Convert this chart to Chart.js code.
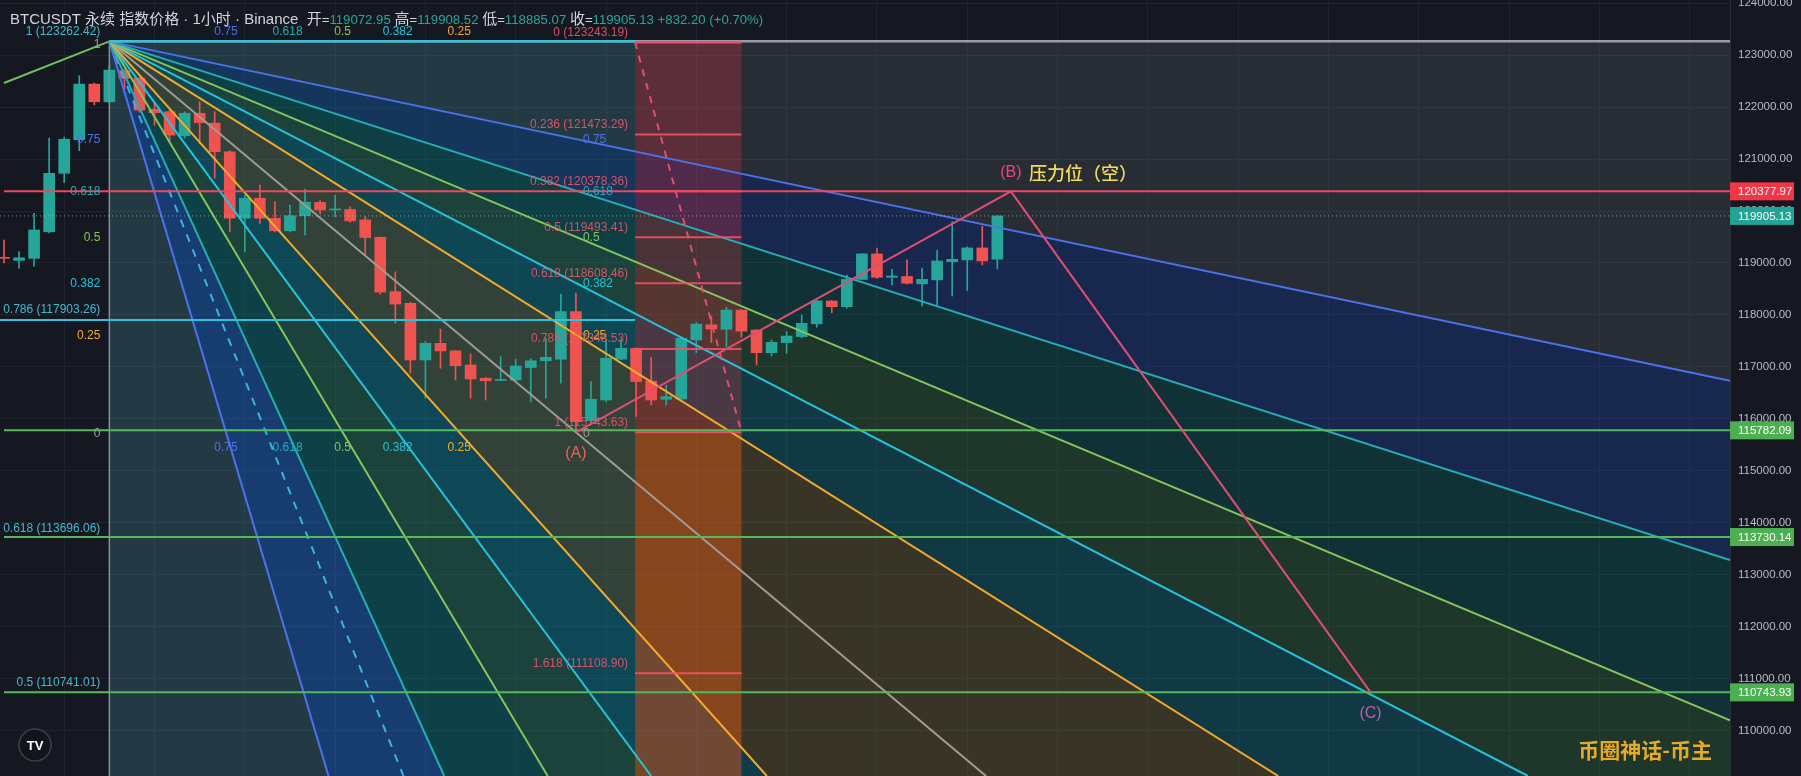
<!DOCTYPE html>
<html><head><meta charset="utf-8">
<style>html,body{margin:0;padding:0;background:#151821;overflow:hidden}canvas{display:block}</style>
<script src="https://cdn.jsdelivr.net/npm/chart.js@4.4.1/dist/chart.umd.min.js"></script>
</head><body>
<canvas id="c" width="1801" height="776"></canvas>
<script>
// ---------------- DATA ----------------
const candleOpen  = [119110,119050,119090,119600,120725,121370,122440,122100,122700,122550,121955,121910,121450,121880,121690,121140,119860,120245,119860,119620,119910,120165,120020,120030,119830,119495,118450,118225,117135,117455,117310,117040,116785,116740,116750,116990,117120,117150,118065,115970,116365,117150,117360,116730,116380,116385,117520,117810,117725,118095,117710,117275,117470,117585,117830,118270,118160,118685,119175,118725,118740,118600,118675,119025,119060,119290,119072.95];
const candleHigh  = [119440,119220,119956,121400,121420,122600,122460,122800,122720,122580,122070,121930,121910,122100,121910,121160,120300,120500,120180,120115,120420,120200,120300,120080,119890,119500,118830,118240,117490,117730,117320,117250,116800,117200,117150,117160,117550,118400,118420,116720,117530,117530,117370,117185,116650,117560,117855,117980,118150,118110,117720,117520,117680,118000,118280,118280,118770,119180,119285,118880,119060,118900,119250,119795,119310,119710,119908.52];
const candleLow   = [119000,118900,118940,119580,120545,121160,122040,122080,122350,121900,121650,121330,121400,121300,120630,119600,119220,119760,119600,119600,119540,119950,119890,119780,119150,118400,117840,116880,116400,116975,116750,116400,116365,116740,116740,116330,116400,116690,115743.63,115915,116330,117140,116045,116270,116270,116380,117275,117470,117390,117570,117040,117210,117265,117560,117765,118045,118130,118680,118705,118580,118595,118175,118190,118365,118470,118960,118885.07];
const candleClose = [119090,119100,119635,120725,121380,122440,122100,122710,122550,121940,121890,121460,121880,121700,121140,119860,120245,119860,119620,119910,120170,120020,120035,119810,119490,118440,118210,117135,117455,117310,117025,116770,116735,116760,117020,117120,117185,118065,115950,116380,117170,117360,116720,116365,116430,117550,117825,117730,118095,117690,117275,117475,117595,117840,118270,118160,118685,119175,118725,118750,118610,118685,119040,119070,119290,119040,119905.13];

const yTickValues = [110000,111000,112000,113000,114000,115000,116000,117000,118000,119000,120000,121000,122000,123000,124000];
const xGridIndex  = [4,10,16,22,28,34,40,46,52,58,64,70,76,82,88,94,100,106,112];

// Fib speed resistance fan (origin = swing high, corner = point A)
const fanOrigin = [7, 123262.42];
const fanCorner = [38, 115743.63];
const fanLevels = [0.75, 0.618, 0.5, 0.382, 0.25];

// Fib retracement #1 (left, cyan)
const fib1Levels = [1, 0.786, 0.618, 0.5];
const fib1Values = [123262.42, 117903.26, 113696.06, 110741.01];
const fib1SpanEnd = 41.93;

// Fib retracement #2 (red band)
const fib2Levels = [0, 0.236, 0.382, 0.5, 0.618, 0.786, 1, 1.618];
const fib2Values = [123243.19, 121473.29, 120378.36, 119493.41, 118608.46, 117348.53, 115743.63, 111108.90];
const fib2Span   = [41.93, 49];

// Horizontal levels with axis tags
const greenLevels = [115782.09, 113730.14, 110743.93];
const redLevel = 120377.97;
const lastPrice = 119905.13;

// Elliott ABC
const waveNames = ['(A)', '(B)', '(C)'];
const waveIndex = [38, 66.9, 90.8];
const wavePrice = [115743.63, 120377.97, 110743.93];

// other trend lines
const leadLineIndex = [0, 7];
const leadLinePrice = [122461, 123262.42];
const dashFanIndex = [7, 17.4];
const dashFanPrice = [123262.42, 115743.63];

const headerTitle = 'BTCUSDT 永续 指数价格 · 1小时 · Binance';
const ohlcNames = ['开', '高', '低', '收'];
const ohlcValues = ['119072.95', '119908.52', '118885.07', '119905.13'];
const changeText = '+832.20 (+0.70%)';
const noteText = '压力位（空）';
const watermarkText = '币圈神话-币主';

// ---------------- VIEW ----------------
const X_MIN = -0.266, X_MAX = 114.68, Y_MIN = 109134.6, Y_MAX = 124057.7;
const UP = '#26a69a', DOWN = '#ef5350';
const FONT = '"Liberation Sans","Noto Sans CJK SC",sans-serif';
const CJK = '"Noto Sans CJK SC","Liberation Sans",sans-serif';

const lvlColor = {1:'#9a9da6', 0.75:'#4a72ea', 0.618:'#24aeb4', 0.5:'#86c45c', 0.382:'#26c2dc', 0.25:'#f4aa2a', 0:'#a39b93'};

function extendRay(k0, p0, k1, p1) {
  const dk = k1 - k0, dp = p1 - p0;
  let t = Infinity;
  if (dk > 1e-9) t = Math.min(t, (X_MAX - k0) / dk);
  if (dp < -1e-9) t = Math.min(t, (Y_MIN - p0) / dp);
  return {x: k0 + dk * t, y: p0 + dp * t};
}

const R = fanOrigin[1] - fanCorner[1];
const W = fanCorner[0] - fanOrigin[0];
const revLevels = fanLevels.slice().reverse();
const fanThrough = [
  [fanCorner[0], fanOrigin[1]],
  ...fanLevels.map(l => [fanCorner[0], fanCorner[1] + l * R]),
  [fanCorner[0], fanCorner[1]],
  ...revLevels.map(l => [fanOrigin[0] + (1 - l) * W, fanCorner[1]]),
  [fanOrigin[0], fanCorner[1]]
];
const fanLineColors = [lvlColor[1], ...fanLevels.map(l => lvlColor[l]), lvlColor[0], ...revLevels.map(l => lvlColor[l]), '#8a8d96'];
const fanEnds = fanThrough.map(t => extendRay(fanOrigin[0], fanOrigin[1], t[0], t[1]));

const pairFills = [
  'rgba(120,123,134,0.20)', 'rgba(41,98,255,0.20)', 'rgba(0,150,136,0.20)', 'rgba(76,175,80,0.20)',
  'rgba(0,188,212,0.20)', 'rgba(200,170,60,0.20)', 'rgba(200,170,60,0.20)', 'rgba(0,188,212,0.22)',
  'rgba(76,175,80,0.20)', 'rgba(0,150,136,0.22)', 'rgba(41,98,255,0.30)', 'rgba(120,123,134,0.20)'
];

const fanPolys = [];
for (let i = 0; i < fanEnds.length - 1; i++) {
  const a = fanEnds[i], b = fanEnds[i + 1];
  const pts = [{x: fanOrigin[0], y: fanOrigin[1]}, a];
  const aRight = Math.abs(a.x - X_MAX) < 1e-6, bRight = Math.abs(b.x - X_MAX) < 1e-6;
  if (aRight && !bRight) pts.push({x: X_MAX, y: Y_MIN});
  pts.push(b);
  fanPolys.push({pts, color: pairFills[i]});
}
const overlayRects = [
  {x0: fanOrigin[0], x1: fib1SpanEnd, y0: fanOrigin[1], y1: Y_MIN, color: 'rgba(0,188,212,0.10)'},
  {x0: fib2Span[0], x1: fib2Span[1], y0: fib2Values[0], y1: fib2Values[6], color: 'rgba(242,54,69,0.26)'},
  {x0: fib2Span[0], x1: fib2Span[1], y0: fib2Values[6], y1: Y_MIN, color: 'rgba(255,95,20,0.40)'}
];

// ---------- datasets ----------
const idx = candleOpen.map((_, i) => i);
const candleColors = idx.map(i => candleClose[i] >= candleOpen[i] ? UP : DOWN);
const datasets = [];

datasets.push({type: 'bar', label: 'wick', order: 20, grouped: false, barThickness: 1,
  data: idx.map(i => ({x: i, y: [candleLow[i], candleHigh[i]]})),
  backgroundColor: candleColors, borderWidth: 0});
datasets.push({type: 'bar', label: 'body', order: 19, grouped: false, barThickness: 11, minBarLength: 1,
  data: idx.map(i => ({x: i, y: [candleOpen[i], candleClose[i]]})),
  backgroundColor: candleColors, borderWidth: 0});

function line(points, color, width, order, dash) {
  datasets.push({type: 'line', data: points, borderColor: color, borderWidth: width, borderDash: dash || [],
    pointRadius: 0, pointHoverRadius: 0, tension: 0, fill: false, order, parsing: true});
}

// fan lines
fanEnds.forEach((e, i) => line([{x: fanOrigin[0], y: fanOrigin[1]}, e], fanLineColors[i], i === 12 ? 1.5 : (i === 0 ? 2.5 : 2), 6));
const dEnd = extendRay(dashFanIndex[0], dashFanPrice[0], dashFanIndex[1], dashFanPrice[1]);
line([{x: dashFanIndex[0], y: dashFanPrice[0]}, dEnd], '#3ab4e6', 2, 6, [8, 8]);
// lead-in green trend line
line(leadLineIndex.map((k, i) => ({x: k, y: leadLinePrice[i]})), '#6fbf5a', 2, 6);
// fib #1 lines
line([{x: fanOrigin[0], y: fib1Values[0]}, {x: fib1SpanEnd, y: fib1Values[0]}], '#3cc0d8', 2.5, 5);
line([{x: X_MIN, y: fib1Values[1]}, {x: fib1SpanEnd, y: fib1Values[1]}], '#2cc4dc', 2, 5);
// fib #2 lines
fib2Values.forEach((v, i) => line([{x: fib2Span[0], y: v}, {x: fib2Span[1], y: v}], i === 0 ? '#f0506a' : 'rgba(240,82,100,0.9)', i === 0 ? 2.5 : 2, 5));
line([{x: fib2Span[0], y: fib2Values[0]}, {x: fib2Span[1], y: fib2Values[6]}], '#e0506e', 2, 5, [7, 7]);
// horizontal levels
greenLevels.forEach(v => line([{x: 0, y: v}, {x: X_MAX, y: v}], '#55b95c', 2, 3));
line([{x: 0, y: redLevel}, {x: X_MAX, y: redLevel}], '#ec4a5c', 2, 3);
line([{x: X_MIN, y: lastPrice}, {x: X_MAX, y: lastPrice}], 'rgba(200,205,215,0.6)', 1, 4, [1, 3]);
// ABC wave
line(waveIndex.map((k, i) => ({x: k, y: wavePrice[i]})), '#dc4f72', 2, 1);

// ---------- plugins ----------
const bgPlugin = {
  id: 'bg',
  beforeDraw(chart) {
    const c = chart.ctx; c.save(); c.fillStyle = '#151821'; c.fillRect(0, 0, chart.width, chart.height); c.restore();
  },
  beforeDatasetsDraw(chart) {
    const {ctx, chartArea: a, scales: {x, y}} = chart;
    ctx.save();
    ctx.beginPath(); ctx.rect(a.left, a.top, a.right - a.left, a.bottom - a.top); ctx.clip();
    fanPolys.forEach(p => {
      ctx.beginPath();
      p.pts.forEach((pt, i) => {
        const X = x.getPixelForValue(pt.x), Y = y.getPixelForValue(pt.y);
        i ? ctx.lineTo(X, Y) : ctx.moveTo(X, Y);
      });
      ctx.closePath(); ctx.fillStyle = p.color; ctx.fill();
    });
    overlayRects.forEach(r => {
      const X0 = x.getPixelForValue(r.x0), X1 = x.getPixelForValue(r.x1);
      const Y0 = y.getPixelForValue(r.y0), Y1 = y.getPixelForValue(r.y1);
      ctx.fillStyle = r.color; ctx.fillRect(X0, Y0, X1 - X0, Y1 - Y0);
    });
    ctx.restore();
  }
};

function txt(ctx, s, X, Y, color, font, align) {
  ctx.font = font; ctx.fillStyle = color; ctx.textAlign = align || 'left'; ctx.textBaseline = 'middle';
  ctx.fillText(s, X, Y);
}

const textPlugin = {
  id: 'texts',
  afterDraw(chart) {
    const {ctx, chartArea: a, scales: {x, y}} = chart;
    const px = v => x.getPixelForValue(v), py = v => y.getPixelForValue(v);
    ctx.save();
    const small = '12px ' + FONT;
    // fan labels
    const fanLeftX = px(fanOrigin[0]) - 9;
    const allLv = [1, ...fanLevels, 0];
    allLv.forEach(l => {
      const yy = py(fanCorner[1] + l * R);
      txt(ctx, String(l), fanLeftX, l === 1 ? yy + 3 : yy + 1, lvlColor[l], small, 'right');
      if (l !== 1) txt(ctx, String(l), px(fanCorner[0]) + 7, yy + 1, lvlColor[l], small, 'left');
    });
    fanLevels.forEach(l => {
      const xx = px(fanOrigin[0] + (1 - l) * W);
      txt(ctx, String(l), xx, py(fanCorner[1]) + 15, lvlColor[l], small, 'center');
      txt(ctx, String(l), xx, py(fanOrigin[1]) - 10, lvlColor[l], small, 'center');
    });
    // fib #1 labels
    fib1Levels.forEach((l, i) => txt(ctx, l + ' (' + fib1Values[i].toFixed(2) + ')', fanLeftX, py(fib1Values[i]) - 10, '#45b8cc', small, 'right'));
    // fib #2 labels
    fib2Levels.forEach((l, i) => txt(ctx, l + ' (' + fib2Values[i].toFixed(2) + ')', px(fib2Span[0]) - 7, py(fib2Values[i]) - 10, 'rgba(232,86,106,0.9)', small, 'right'));
    // wave labels
    const wcol = ['#f0604f', '#e8487a', '#c45ca6'];
    waveNames.forEach((n, i) => {
      const X = px(waveIndex[i]), Y = py(wavePrice[i]);
      const dy = i === 1 ? -19 : 21;
      txt(ctx, n, X, Y + dy, wcol[i], '16px ' + FONT, 'center');
    });
    txt(ctx, noteText, px(waveIndex[1]) + 18, py(wavePrice[1]) - 18, '#f2dc5a', '500 18px ' + CJK, 'left');
    // header
    let hx = 10; const hy = 20;
    const seg = (s, c, f) => { txt(ctx, s, hx, hy, c, f, 'left'); hx += ctx.measureText(s).width; };
    const tf = '15px ' + FONT, vf = '13.2px ' + FONT;
    seg(headerTitle + '  ', '#d1d4dc', tf);
    ohlcNames.forEach((n, i) => { seg(n, '#d1d4dc', tf); seg('=', '#d1d4dc', vf); seg(ohlcValues[i] + ' ', UP, vf); });
    seg(changeText, UP, vf);
    // watermark
    txt(ctx, watermarkText, a.right - 18, 750, '#e6aa28', 'bold 21px ' + CJK, 'right');
    // logo
    ctx.beginPath(); ctx.arc(35, 745, 16, 0, Math.PI * 2);
    ctx.fillStyle = 'rgba(18,20,28,0.95)'; ctx.fill(); ctx.lineWidth = 1.5; ctx.strokeStyle = '#3d414c'; ctx.stroke();
    txt(ctx, 'TV', 35, 746, '#ffffff', 'bold 13px ' + FONT, 'center');
    // axis tags
    const tags = [
      {v: redLevel, c: '#f23645'}, {v: lastPrice, c: '#22a393'},
      ...greenLevels.map(v => ({v, c: '#4caf50'}))
    ];
    tags.forEach(t => {
      const Y = py(t.v);
      ctx.fillStyle = t.c; ctx.fillRect(a.right, Y - 9, 64, 18);
      txt(ctx, t.v.toFixed(2), a.right + 8, Y + 0.5, '#ffffff', '11.5px ' + FONT, 'left');
    });
    ctx.restore();
  }
};

new Chart(document.getElementById('c'), {
  type: 'line',
  data: {datasets},
  options: {
    responsive: false, animation: false, devicePixelRatio: 1, events: [],
    layout: {padding: 0, autoPadding: false},
    plugins: {legend: {display: false}, tooltip: {enabled: false}},
    scales: {
      x: {type: 'linear', min: X_MIN, max: X_MAX, offset: false,
        grid: {color: '#1f2330', drawTicks: false, offset: false},
        border: {display: false}, ticks: {display: false},
        afterBuildTicks: s => { s.ticks = xGridIndex.map(v => ({value: v})); },
        afterFit: s => { s.height = 0; s.paddingLeft = 0; s.paddingRight = 0; s.paddingTop = 0; s.paddingBottom = 0; }},
      y: {type: 'linear', position: 'right', min: Y_MIN, max: Y_MAX,
        grid: {color: '#1f2330', drawTicks: false},
        border: {color: '#2a2e39'},
        ticks: {color: '#b8bbc4', font: {size: 11.5, family: FONT}, padding: 8, autoSkip: false,
          callback: v => Number(v).toFixed(2)},
        afterBuildTicks: s => { s.ticks = yTickValues.map(v => ({value: v})); },
        afterFit: s => { s.width = 71; s.paddingTop = 0; s.paddingBottom = 0; s.paddingLeft = 0; s.paddingRight = 0; }}
    }
  },
  plugins: [bgPlugin, textPlugin]
});
</script>
</body></html>
